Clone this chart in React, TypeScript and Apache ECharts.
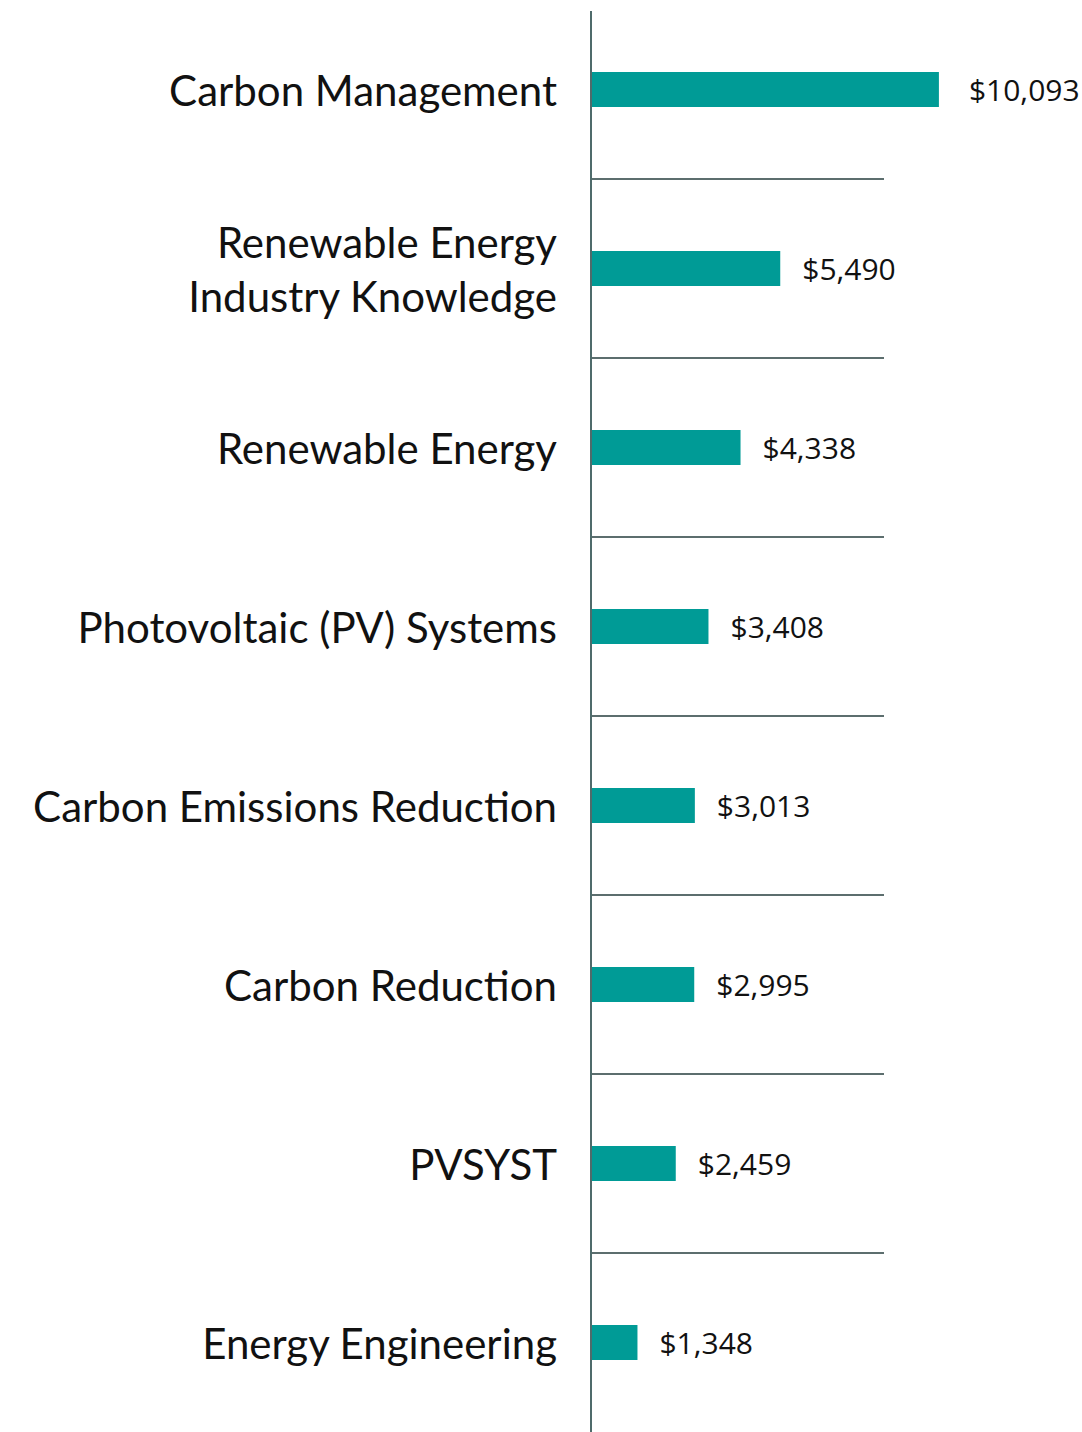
import React, { useEffect, useRef } from "react";
import * as echarts from "echarts";

const categories = [
  "Carbon Management",
  "Renewable Energy\nIndustry Knowledge",
  "Renewable Energy",
  "Photovoltaic (PV) Systems",
  "Carbon Emissions Reduction",
  "Carbon Reduction",
  "PVSYST",
  "Energy Engineering",
];
const values = [10093, 5490, 4338, 3408, 3013, 2995, 2459, 1348];

export default function App() {
  const ref = useRef<HTMLDivElement>(null);
  useEffect(() => {
    document.body.style.margin = "0";
    const chart = echarts.init(ref.current!, null, { renderer: "svg" });
    const data = values.map((v, i) =>
      i === 0 ? { value: v, label: { distance: 30 } } : { value: v }
    );
    chart.setOption({
      animation: false,
      backgroundColor: "#ffffff",
      grid: { left: 591, right: 198, top: -10, bottom: -5, containLabel: false },
      xAxis: {
        type: "value",
        min: 0,
        max: 8500,
        show: false,
        splitLine: { show: false },
      },
      yAxis: {
        type: "category",
        inverse: true,
        data: categories,
        axisLine: { show: false },
        axisTick: { show: false },
        axisLabel: {
          margin: 34,
          fontFamily: "Lato",
          fontSize: 42,
          color: "#111111",
          lineHeight: 54,
        },
        splitLine: {
          show: true,
          showMinLine: false,
          showMaxLine: false,
          lineStyle: { color: "#5c6e6e", width: 2 },
        },
      },
      graphic: [
        {
          type: "line",
          shape: { x1: 591, y1: 11, x2: 591, y2: 1432 },
          style: { stroke: "#4f6b6b", lineWidth: 2 },
          z: 10,
        },
      ],
      series: [
        {
          type: "bar",
          data,
          barWidth: 35,
          clip: false,
          itemStyle: { color: "#009b96" },
          label: {
            show: true,
            position: "right",
            distance: 22,
            fontFamily: "Open Sans",
            fontSize: 30,
            color: "#111111",
            formatter: (p: any) => "$" + Number(p.value).toLocaleString("en-US"),
          },
        },
      ],
    });
    return () => chart.dispose();
  }, []);
  return <div ref={ref} style={{ width: 1082, height: 1432 }} />;
}
